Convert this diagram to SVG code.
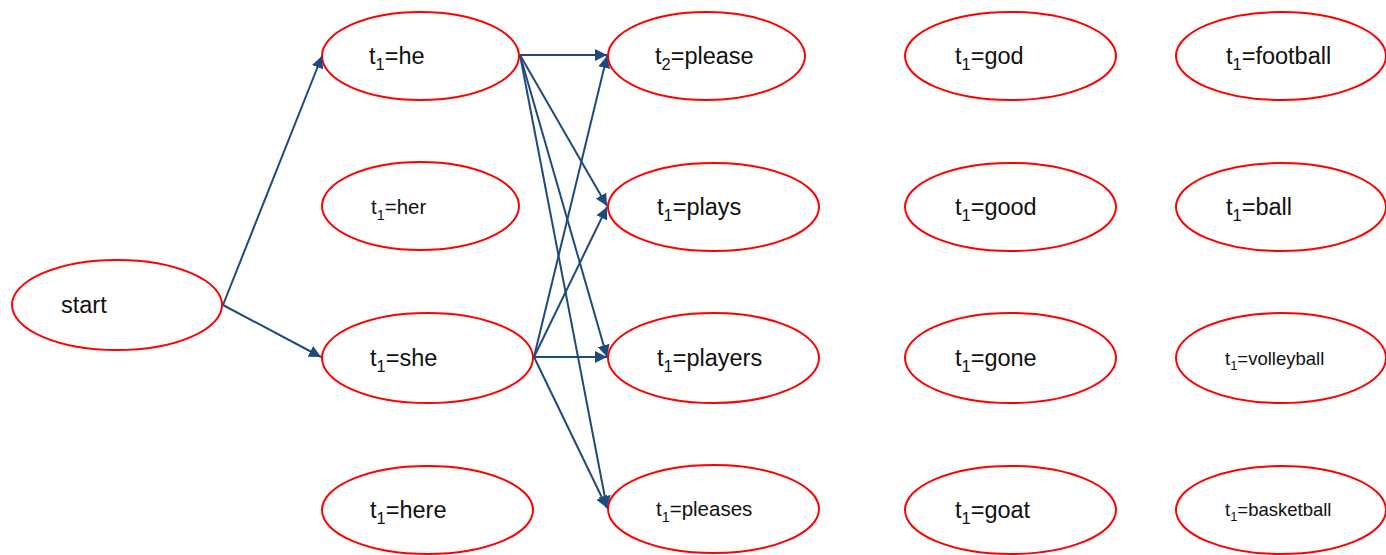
<svg xmlns="http://www.w3.org/2000/svg" width="1386" height="555" viewBox="0 0 1386 555">
<style>
ellipse{fill:#fff;stroke:#ff0000;stroke-width:2}
text{font-family:"Liberation Sans",Arial,sans-serif;fill:#111}
.l{font-size:23.5px}
.m{font-size:20.5px}
.s{font-size:18.5px}
.sub{font-size:0.7em}
.c line{stroke:#1f4a80;stroke-width:2;marker-end:url(#ah)}
</style>
<defs>
<marker id="ah" viewBox="0 0 10 10" refX="10" refY="5" markerWidth="6" markerHeight="6" markerUnits="strokeWidth" orient="auto">
<path d="M0,0L10,5L0,10z" fill="#1f4a80"/>
</marker>
</defs>
<rect width="1386" height="555" fill="#fff"/>
<g id="n-start"><ellipse cx="117" cy="305" rx="105" ry="45"/><text class="l" x="61" y="313">start</text></g>
<g id="n-he"><ellipse cx="420.5" cy="56" rx="98.5" ry="44"/><text class="l" x="369" y="64">t<tspan class="sub" dy="6">1</tspan><tspan dy="-6">=he</tspan></text></g>
<g id="n-her"><ellipse cx="420.5" cy="206" rx="98.5" ry="44"/><text class="m" x="371" y="214">t<tspan class="sub" dy="6">1</tspan><tspan dy="-6">=her</tspan></text></g>
<g id="n-she"><ellipse cx="427.5" cy="358" rx="105.5" ry="45"/><text class="l" x="370" y="366">t<tspan class="sub" dy="6">1</tspan><tspan dy="-6">=she</tspan></text></g>
<g id="n-here"><ellipse cx="427.5" cy="510" rx="105.5" ry="44"/><text class="l" x="370" y="518">t<tspan class="sub" dy="6">1</tspan><tspan dy="-6">=here</tspan></text></g>
<g id="n-please"><ellipse cx="706.5" cy="56" rx="98.5" ry="44"/><text class="l" x="655" y="64">t<tspan class="sub" dy="6">2</tspan><tspan dy="-6">=please</tspan></text></g>
<g id="n-plays"><ellipse cx="713.5" cy="207" rx="105.5" ry="44"/><text class="l" x="657" y="215">t<tspan class="sub" dy="6">1</tspan><tspan dy="-6">=plays</tspan></text></g>
<g id="n-players"><ellipse cx="713.5" cy="358" rx="105.5" ry="45"/><text class="l" x="657" y="366">t<tspan class="sub" dy="6">1</tspan><tspan dy="-6">=players</tspan></text></g>
<g id="n-pleases"><ellipse cx="713.5" cy="509" rx="105.5" ry="44"/><text class="m" x="656" y="516">t<tspan class="sub" dy="6">1</tspan><tspan dy="-6">=pleases</tspan></text></g>
<g id="n-god"><ellipse cx="1010.5" cy="56" rx="105.5" ry="44"/><text class="l" x="955" y="64">t<tspan class="sub" dy="6">1</tspan><tspan dy="-6">=god</tspan></text></g>
<g id="n-good"><ellipse cx="1010.5" cy="207" rx="105.5" ry="44"/><text class="l" x="955" y="215">t<tspan class="sub" dy="6">1</tspan><tspan dy="-6">=good</tspan></text></g>
<g id="n-gone"><ellipse cx="1010.5" cy="358" rx="105.5" ry="45"/><text class="l" x="955" y="366">t<tspan class="sub" dy="6">1</tspan><tspan dy="-6">=gone</tspan></text></g>
<g id="n-goat"><ellipse cx="1010.5" cy="510" rx="105.5" ry="44"/><text class="l" x="955" y="518">t<tspan class="sub" dy="6">1</tspan><tspan dy="-6">=goat</tspan></text></g>
<g id="n-football"><ellipse cx="1281" cy="56" rx="105" ry="44"/><text class="l" x="1226" y="64">t<tspan class="sub" dy="6">1</tspan><tspan dy="-6">=football</tspan></text></g>
<g id="n-ball"><ellipse cx="1281" cy="207" rx="105" ry="44"/><text class="l" x="1226" y="215">t<tspan class="sub" dy="6">1</tspan><tspan dy="-6">=ball</tspan></text></g>
<g id="n-volleyball"><ellipse cx="1281" cy="358" rx="105" ry="45"/><text class="s" x="1225" y="365">t<tspan class="sub" dy="5">1</tspan><tspan dy="-5">=volleyball</tspan></text></g>
<g id="n-basketball"><ellipse cx="1281" cy="510" rx="105" ry="44"/><text class="s" x="1225" y="516">t<tspan class="sub" dy="5">1</tspan><tspan dy="-5">=basketball</tspan></text></g>
<g id="connectors" class="c">
<line x1="223" y1="305" x2="322" y2="56"/>
<line x1="223" y1="305" x2="321" y2="357"/>
<line x1="520" y1="55" x2="607" y2="55"/>
<line x1="520" y1="55" x2="607" y2="206"/>
<line x1="520" y1="55" x2="607" y2="357"/>
<line x1="520" y1="55" x2="607" y2="508"/>
<line x1="534" y1="357" x2="607" y2="56"/>
<line x1="534" y1="357" x2="607" y2="207"/>
<line x1="534" y1="357" x2="607" y2="357"/>
<line x1="534" y1="357" x2="607" y2="508"/>
</g>
</svg>
